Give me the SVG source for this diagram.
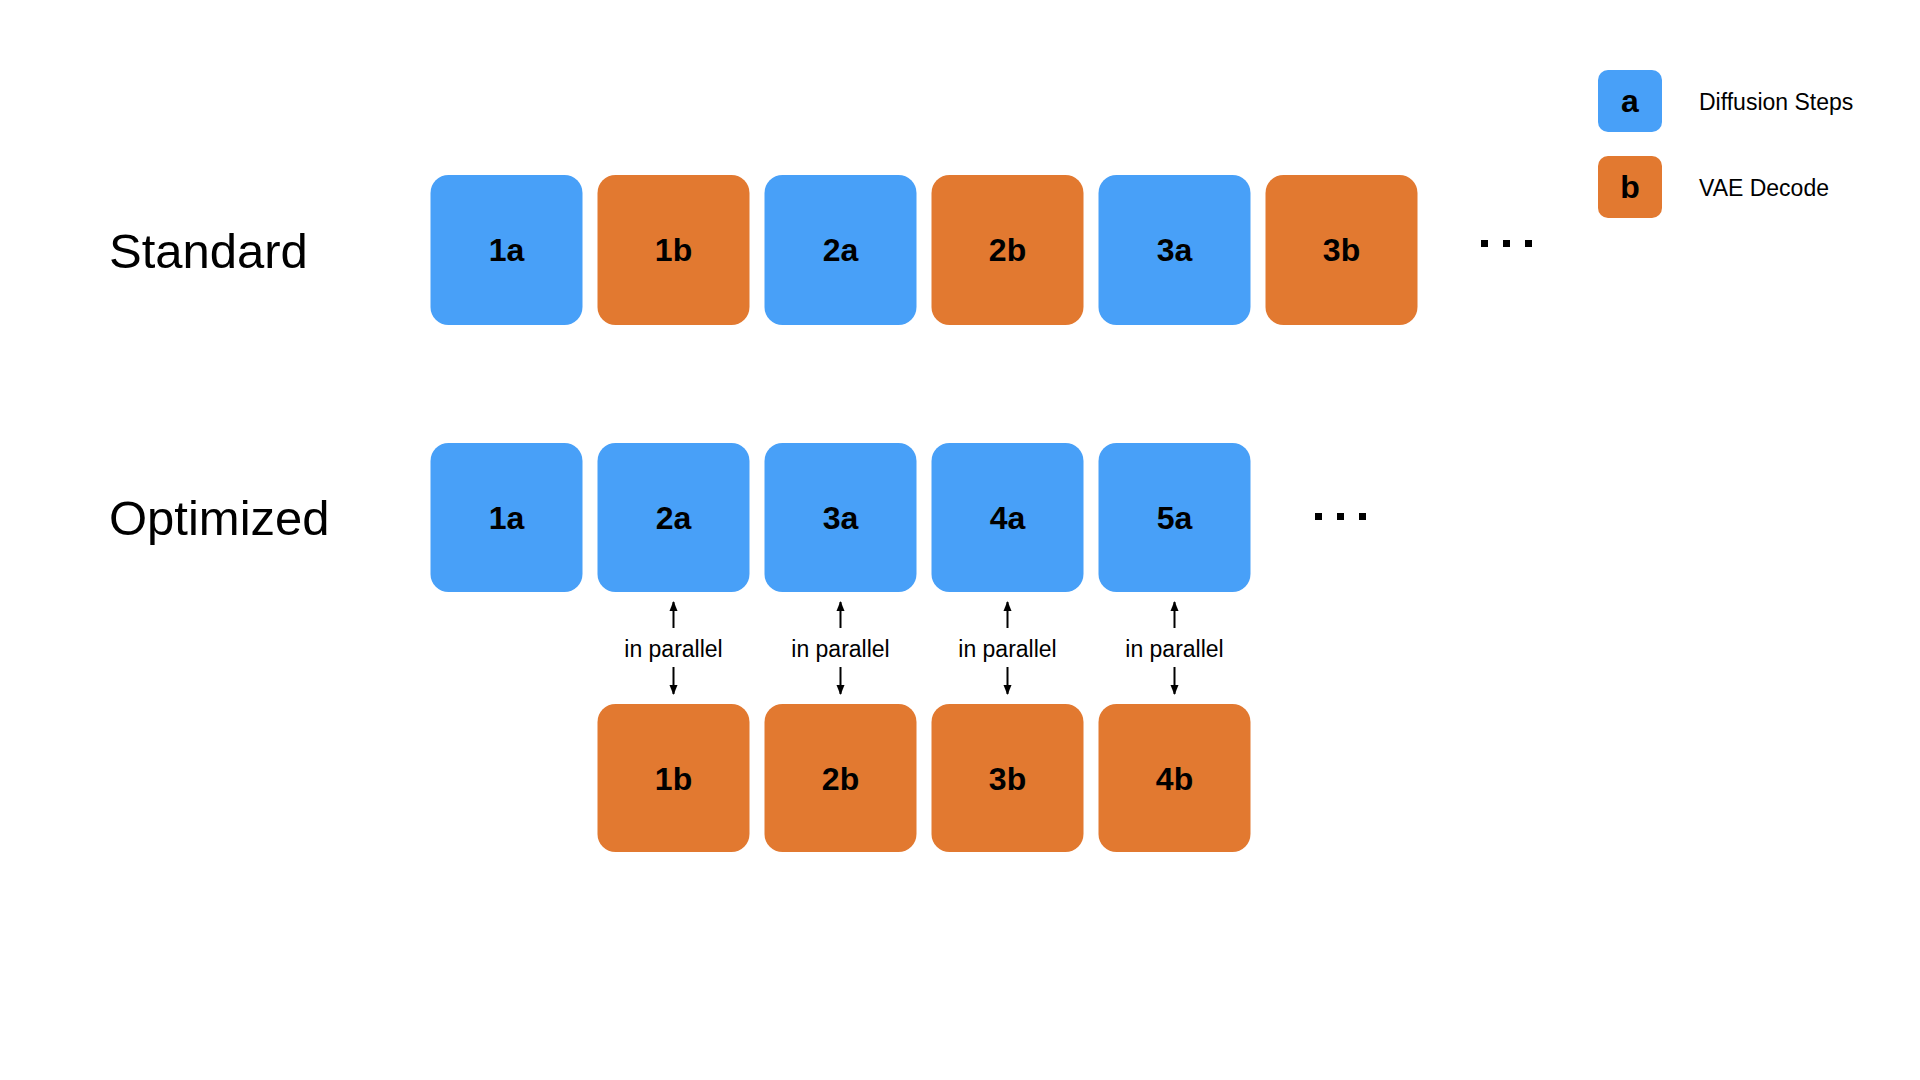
<svg xmlns="http://www.w3.org/2000/svg" width="1920" height="1080" viewBox="0 0 1920 1080">
<style>
.a{fill:#48a0f8}.b{fill:#e27930}
.t{font-family:"Liberation Sans",Arial,sans-serif;font-weight:bold;font-size:32px;text-anchor:middle;fill:#000}
.h{font-family:"Liberation Sans",Arial,sans-serif;font-size:49px;fill:#000}
.l{font-family:"Liberation Sans",Arial,sans-serif;font-size:23px;fill:#000}
.p{font-family:"Liberation Sans",Arial,sans-serif;font-size:23px;text-anchor:middle;fill:#000}
.c{stroke:#000;stroke-width:2;fill:none;marker-end:url(#m)}
</style>
<defs><marker id="m" viewBox="0 0 10 10" refX="9" refY="5" markerWidth="5" markerHeight="5" orient="auto"><path d="M0,1 L10,5 L0,9 z" fill="#000"/></marker></defs>
<rect width="1920" height="1080" fill="#fff"/>
<text class="h" x="109" y="268">Standard</text>
<text class="h" x="109" y="535">Optimized</text>
<g id="s1a"><rect class="a" x="430.5" y="175" width="152" height="150" rx="18"/><text class="t" x="506.5" y="261">1a</text></g>
<g id="s1b"><rect class="b" x="597.5" y="175" width="152" height="150" rx="18"/><text class="t" x="673.5" y="261">1b</text></g>
<g id="s2a"><rect class="a" x="764.5" y="175" width="152" height="150" rx="18"/><text class="t" x="840.5" y="261">2a</text></g>
<g id="s2b"><rect class="b" x="931.5" y="175" width="152" height="150" rx="18"/><text class="t" x="1007.5" y="261">2b</text></g>
<g id="s3a"><rect class="a" x="1098.5" y="175" width="152" height="150" rx="18"/><text class="t" x="1174.5" y="261">3a</text></g>
<g id="s3b"><rect class="b" x="1265.5" y="175" width="152" height="150" rx="18"/><text class="t" x="1341.5" y="261">3b</text></g>
<g id="sdots"><rect x="1481" y="240" width="7" height="7"/><rect x="1503" y="240" width="7" height="7"/><rect x="1525" y="240" width="7" height="7"/></g>
<g id="o1a"><rect class="a" x="430.5" y="443" width="152" height="149" rx="18"/><text class="t" x="506.5" y="529">1a</text></g>
<g id="o2a"><rect class="a" x="597.5" y="443" width="152" height="149" rx="18"/><text class="t" x="673.5" y="529">2a</text></g>
<g id="o3a"><rect class="a" x="764.5" y="443" width="152" height="149" rx="18"/><text class="t" x="840.5" y="529">3a</text></g>
<g id="o4a"><rect class="a" x="931.5" y="443" width="152" height="149" rx="18"/><text class="t" x="1007.5" y="529">4a</text></g>
<g id="o5a"><rect class="a" x="1098.5" y="443" width="152" height="149" rx="18"/><text class="t" x="1174.5" y="529">5a</text></g>
<g id="odots"><rect x="1315" y="513" width="7" height="7"/><rect x="1337" y="513" width="7" height="7"/><rect x="1359" y="513" width="7" height="7"/></g>
<g id="o1b"><rect class="b" x="597.5" y="704" width="152" height="148" rx="18"/><text class="t" x="673.5" y="790">1b</text></g>
<g id="o2b"><rect class="b" x="764.5" y="704" width="152" height="148" rx="18"/><text class="t" x="840.5" y="790">2b</text></g>
<g id="o3b"><rect class="b" x="931.5" y="704" width="152" height="148" rx="18"/><text class="t" x="1007.5" y="790">3b</text></g>
<g id="o4b"><rect class="b" x="1098.5" y="704" width="152" height="148" rx="18"/><text class="t" x="1174.5" y="790">4b</text></g>
<g id="connectors">
<path class="c" d="M673.5,628 V602"/><path class="c" d="M673.5,667 V694"/><text class="p" x="673.5" y="657">in parallel</text>
<path class="c" d="M840.5,628 V602"/><path class="c" d="M840.5,667 V694"/><text class="p" x="840.5" y="657">in parallel</text>
<path class="c" d="M1007.5,628 V602"/><path class="c" d="M1007.5,667 V694"/><text class="p" x="1007.5" y="657">in parallel</text>
<path class="c" d="M1174.5,628 V602"/><path class="c" d="M1174.5,667 V694"/><text class="p" x="1174.5" y="657">in parallel</text>
</g>
<g id="legend-a"><rect class="a" x="1598" y="70" width="64" height="62" rx="10"/><text class="t" x="1630" y="112" font-size="30">a</text><text class="l" x="1699" y="110">Diffusion Steps</text></g>
<g id="legend-b"><rect class="b" x="1598" y="156" width="64" height="62" rx="10"/><text class="t" x="1630" y="198" font-size="30">b</text><text class="l" x="1699" y="196">VAE Decode</text></g>
</svg>
